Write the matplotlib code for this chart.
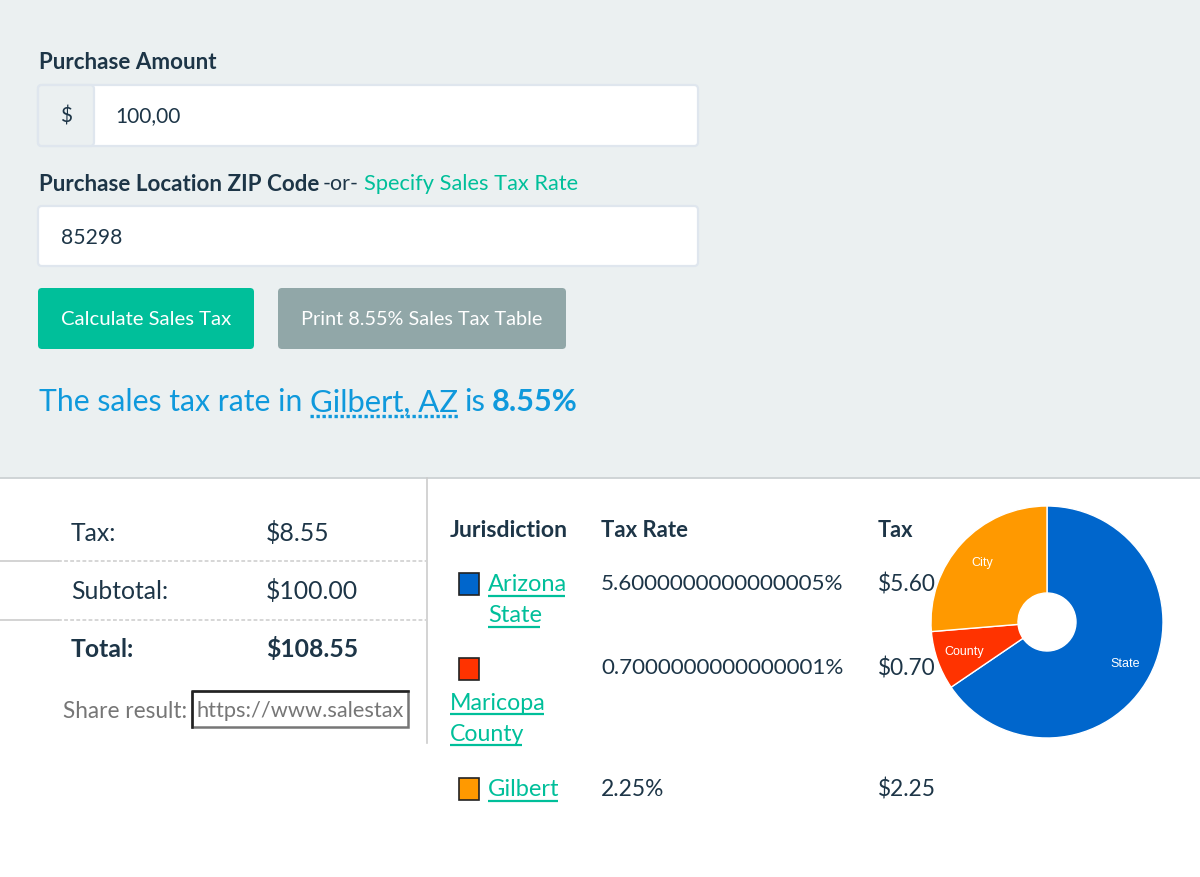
import matplotlib
matplotlib.use('Agg')
from matplotlib import pyplot as plt
from matplotlib.patches import FancyBboxPatch, Rectangle

plt.rcParams['font.family'] = ['Lato', 'DejaVu Sans']

# chart data
slice_names = ['State', 'County', 'City']
slice_rates = [5.6, 0.7, 2.25]
slice_colors = ['#0066cc', '#ff3300', '#ff9900']

DARK = '#1d3547'
GREEN = '#00bf9a'
BLUE = '#0f99dc'

fig = plt.figure(figsize=(12, 8.78), dpi=100, facecolor='white')
ax = fig.add_axes([0, 0, 1, 1])
ax.set_xlim(0, 1200)
ax.set_ylim(877, -1)
ax.axis('off')


def label(x, y, s, size=16.1, color=DARK, weight='normal', ha='left', **kw):
    return ax.text(x, y + 0.5, s, fontsize=size, color=color, fontweight=weight,
                   ha=ha, va='center', **kw)


def box(x0, y0, x1, y1, face, edge='none', lw=0, r=4, z=1):
    ax.add_patch(FancyBboxPatch((x0 + r, y0 + r), x1 - x0 - 2 * r, y1 - y0 - 2 * r,
                                boxstyle='round,pad=%d,rounding_size=%d' % (r, r),
                                facecolor=face, edgecolor=edge, linewidth=lw, zorder=z))


def swatch(x, y, color):
    ax.add_patch(Rectangle((x, y), 20, 22, facecolor=color, edgecolor='#222222', linewidth=1.2))


def underline(x0, x1, y, color=GREEN):
    ax.plot([x0, x1], [y, y], color=color, linewidth=1.6, solid_capstyle='butt')


# top form panel
ax.add_patch(Rectangle((0, -1), 1200, 479, facecolor='#ebf0f1', edgecolor='none', zorder=0))
ax.plot([0, 1200], [478, 478], color='#cfd4d6', linewidth=1.4)

label(39, 61, 'Purchase Amount', weight='bold')
box(38, 85, 698, 146, '#ffffff', '#dfe6ee', 1.6)
box(38, 85, 94, 146, '#ebf0f1', '#dfe6ee', 1.6, z=2)
label(66, 115, '$', size=15, ha='center', zorder=3)
label(115, 115, '100,00', size=15)

label(39, 183, 'Purchase Location ZIP Code', weight='bold')
label(323, 183, '-or-', size=15.4)
label(364, 183, 'Specify Sales Tax Rate', size=15.7, color=GREEN)
box(38, 206, 698, 266, '#ffffff', '#dfe6ee', 1.6)
label(61, 237, '85298', size=15.2)

box(38, 288, 254, 349, GREEN)
label(146, 318.5, 'Calculate Sales Tax', size=14.6, color='white', ha='center', zorder=3)
box(278, 288, 566, 349, '#91a7a8')
label(422, 318.5, 'Print 8.55% Sales Tax Table', size=14.3, color='white', ha='center', zorder=3)

label(39, 401, 'The sales tax rate in', size=21.7, color=BLUE)
label(310, 401, 'Gilbert, AZ', size=22.3, color=BLUE)
label(464, 401, 'is', size=22.3, color=BLUE)
label(492, 401, '8.55%', size=22.1, color=BLUE, weight='bold')
ax.plot([310, 458], [416, 416], color=BLUE, linewidth=2.4, linestyle=(0, (1, 0.8)))

# summary on the left
ax.plot([427, 427], [478, 743], color='#cccccc', linewidth=1.2)
label(71, 532, 'Tax:', size=17.8)
label(266, 532, '$8.55', size=17.8)
label(71, 590, 'Subtotal:', size=17.8)
label(266, 590, '$100.00', size=17.8)
label(71, 648, 'Total:', size=17.8, weight='bold')
label(266, 648, '$108.55', size=17.8, weight='bold')
for y in [561, 619.5]:
    ax.plot([0, 58], [y, y], color='#cccccc', linewidth=1.2)
    ax.plot([58, 426], [y, y], color='#cccccc', linewidth=1.1, linestyle=(0, (2.5, 1.5)))

label(63, 710, 'Share result:', color='#767676', size=16.3)
ax.add_patch(Rectangle((192, 691), 216, 36, facecolor='white', edgecolor='#767676', linewidth=1.8))
ax.plot([192, 192, 408], [727, 691, 691], color='#222222', linewidth=1.8)
label(197, 710, 'https://www.salestax', color='#767676', size=15.7)

# jurisdiction table
label(450, 529, 'Jurisdiction', size=16.6, weight='bold')
label(601, 529, 'Tax Rate', size=15.9, weight='bold')
label(878, 529, 'Tax', size=15.7, weight='bold')

swatch(459, 573, slice_colors[0])
label(488, 583, 'Arizona', size=17, color=GREEN)
label(488, 614, 'State', size=17, color=GREEN)
underline(488, 565, 596)
underline(488, 540, 627)
label(601, 583, '5.6000000000000005%')
label(878, 583, '$5.60', size=16.3)

swatch(459, 658, slice_colors[1])
label(450, 702, 'Maricopa', size=16.7, color=GREEN)
label(450, 733, 'County', size=16.7, color=GREEN)
underline(450, 544, 714)
underline(450, 522, 745)
label(601, 667, '0.7000000000000001%')
label(878, 667, '$0.70', size=16.3)

swatch(459, 778, slice_colors[2])
label(488, 788, 'Gilbert', size=17, color=GREEN)
underline(488, 558, 801)
label(601, 788, '2.25%', size=16.4)
label(878, 788, '$2.25', size=16.3)

# donut in its own axes
pie_ax = fig.add_axes([931 / 1200, 1 - 739 / 878, 232 / 1200, 232 / 878])
pie_ax.patch.set_alpha(0)
wedges, pie_labels = pie_ax.pie(slice_rates, colors=slice_colors, labels=slice_names,
                                labeldistance=0.76, startangle=90, counterclock=False,
                                radius=1.0, wedgeprops=dict(width=0.75, edgecolor='white', linewidth=1.0),
                                textprops=dict(color='white', fontsize=9, family='Liberation Sans'))
for t in pie_labels:
    t.set_ha('center')
    t.set_va('center')
pie_ax.set_xlim(-1, 1)
pie_ax.set_ylim(-1, 1)

fig.savefig('out.png', dpi=100)
